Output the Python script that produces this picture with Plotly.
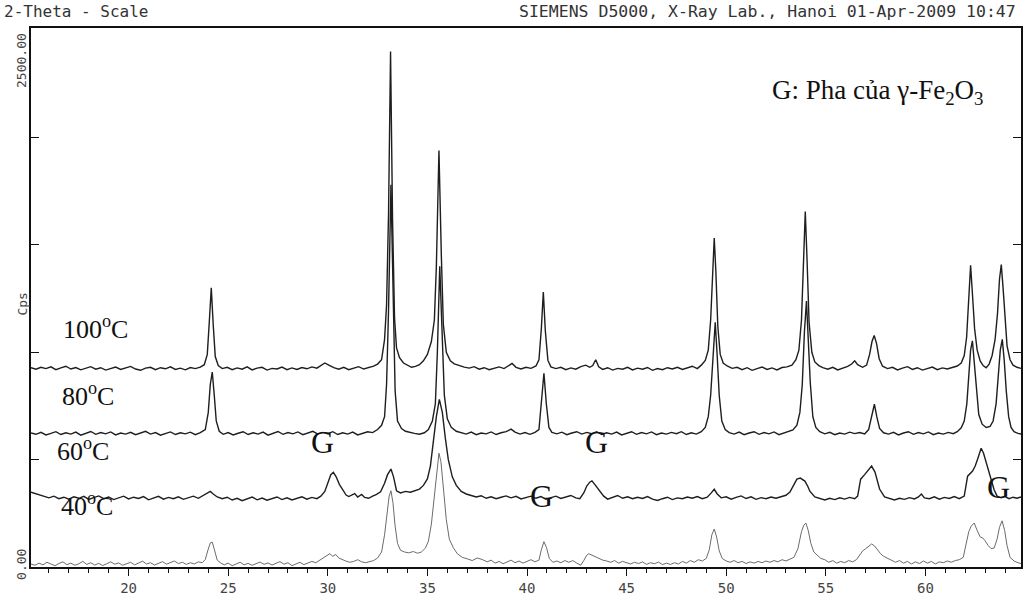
import plotly.graph_objects as go

# XRD patterns (2-theta in degrees, intensity in Cps)
pattern_100 = [
    (15.10, 928), (15.35, 921), (15.60, 930), (15.85, 924), (16.10, 932), (16.35, 919), (16.60, 927), (16.85, 935), (17.10, 922), (17.35, 929),
    (17.60, 918), (17.85, 926), (18.10, 933), (18.35, 921), (18.60, 928), (18.85, 917), (19.10, 925), (19.35, 931), (19.60, 920), (19.85, 927),
    (20.10, 934), (20.35, 922), (20.60, 916), (20.85, 926), (21.10, 930), (21.35, 919), (21.60, 928), (21.85, 923), (22.10, 932), (22.35, 920),
    (22.60, 926), (22.85, 918), (23.10, 929), (23.35, 924), (23.60, 931), (23.80, 942), (23.95, 990), (24.05, 1140), (24.15, 1300), (24.25, 1125),
    (24.35, 980), (24.50, 938), (24.70, 924), (24.95, 930), (25.20, 919), (25.45, 927), (25.70, 921), (25.95, 932), (26.20, 918), (26.45, 926),
    (26.70, 930), (26.95, 917), (27.20, 925), (27.45, 922), (27.70, 931), (27.95, 919), (28.20, 927), (28.45, 920), (28.70, 929), (28.95, 923),
    (29.20, 932), (29.45, 926), (29.65, 938), (29.85, 950), (30.05, 940), (30.30, 928), (30.55, 921), (30.80, 930), (31.05, 919), (31.30, 926),
    (31.55, 933), (31.80, 922), (32.05, 929), (32.30, 935), (32.50, 945), (32.70, 965), (32.85, 1060), (32.95, 1220), (33.05, 1650), (33.15, 2400),
    (33.25, 1620), (33.35, 1160), (33.45, 1020), (33.60, 975), (33.80, 950), (34.00, 938), (34.20, 930), (34.40, 934), (34.60, 942), (34.80, 960),
    (35.00, 990), (35.20, 1050), (35.35, 1150), (35.45, 1400), (35.58, 1940), (35.70, 1450), (35.80, 1130), (35.95, 1000), (36.15, 960), (36.35, 946),
    (36.60, 938), (36.85, 931), (37.10, 926), (37.35, 933), (37.60, 921), (37.85, 928), (38.10, 919), (38.35, 927), (38.60, 932), (38.85, 924),
    (39.05, 936), (39.25, 948), (39.45, 930), (39.70, 922), (39.95, 930), (40.20, 925), (40.45, 936), (40.60, 965), (40.72, 1110), (40.82, 1280),
    (40.92, 1100), (41.05, 962), (41.20, 932), (41.45, 924), (41.70, 930), (41.95, 919), (42.20, 927), (42.45, 921), (42.70, 933), (42.95, 940),
    (43.15, 930), (43.30, 938), (43.45, 965), (43.60, 932), (43.80, 920), (44.05, 928), (44.30, 917), (44.55, 925), (44.80, 921), (45.05, 930),
    (45.30, 918), (45.55, 926), (45.80, 921), (46.05, 929), (46.30, 916), (46.55, 924), (46.80, 919), (47.05, 928), (47.30, 922), (47.55, 930),
    (47.80, 920), (48.05, 927), (48.30, 935), (48.55, 924), (48.75, 940), (48.95, 962), (49.10, 1010), (49.22, 1150), (49.32, 1400), (49.40, 1532),
    (49.48, 1380), (49.58, 1120), (49.70, 990), (49.85, 950), (50.05, 936), (50.30, 925), (50.55, 930), (50.80, 919), (51.05, 928), (51.30, 916),
    (51.55, 924), (51.80, 931), (52.05, 920), (52.30, 927), (52.55, 918), (52.80, 929), (53.05, 932), (53.30, 940), (53.50, 965), (53.65, 1010),
    (53.78, 1150), (53.88, 1450), (53.97, 1655), (54.06, 1430), (54.16, 1140), (54.30, 1000), (54.45, 955), (54.65, 938), (54.85, 928), (55.10, 921),
    (55.35, 930), (55.60, 918), (55.85, 926), (56.10, 934), (56.30, 945), (56.45, 960), (56.60, 942), (56.85, 930), (57.05, 940), (57.20, 990),
    (57.32, 1050), (57.43, 1078), (57.55, 1040), (57.68, 970), (57.85, 935), (58.10, 924), (58.35, 930), (58.60, 918), (58.85, 926), (59.10, 933),
    (59.35, 920), (59.60, 928), (59.85, 917), (60.10, 925), (60.35, 931), (60.60, 919), (60.85, 927), (61.10, 922), (61.35, 930), (61.60, 936),
    (61.80, 950), (61.95, 985), (62.07, 1070), (62.17, 1250), (62.27, 1405), (62.37, 1260), (62.47, 1110), (62.60, 1010), (62.75, 960), (62.90, 938),
    (63.05, 928), (63.20, 945), (63.35, 985), (63.50, 1060), (63.62, 1180), (63.72, 1340), (63.81, 1408), (63.90, 1300), (64.00, 1150), (64.10, 1030),
    (64.25, 965), (64.40, 940), (64.60, 930), (64.80, 925),
]

pattern_80 = [
    (15.10, 624), (15.35, 618), (15.60, 627), (15.85, 615), (16.10, 622), (16.35, 630), (16.60, 617), (16.85, 625), (17.10, 619), (17.35, 628),
    (17.60, 614), (17.85, 623), (18.10, 631), (18.35, 618), (18.60, 626), (18.85, 620), (19.10, 629), (19.35, 615), (19.60, 624), (19.85, 619),
    (20.10, 627), (20.35, 616), (20.60, 625), (20.85, 632), (21.10, 619), (21.35, 626), (21.60, 614), (21.85, 622), (22.10, 629), (22.35, 617),
    (22.60, 625), (22.85, 620), (23.10, 628), (23.35, 616), (23.60, 626), (23.85, 640), (24.00, 720), (24.10, 850), (24.20, 908), (24.30, 800),
    (24.40, 680), (24.55, 632), (24.75, 618), (25.00, 626), (25.25, 615), (25.50, 623), (25.75, 630), (26.00, 617), (26.25, 625), (26.50, 619),
    (26.75, 628), (27.00, 614), (27.25, 622), (27.50, 631), (27.75, 618), (28.00, 626), (28.25, 620), (28.50, 629), (28.75, 616), (29.00, 624),
    (29.25, 632), (29.50, 619), (29.75, 627), (30.00, 621), (30.25, 630), (30.50, 617), (30.75, 625), (31.00, 619), (31.25, 628), (31.50, 615),
    (31.75, 624), (32.00, 630), (32.25, 626), (32.50, 640), (32.70, 660), (32.85, 700), (32.95, 850), (33.05, 1200), (33.17, 1780), (33.28, 1250),
    (33.38, 820), (33.50, 680), (33.70, 645), (33.90, 632), (34.10, 626), (34.35, 622), (34.60, 618), (34.85, 625), (35.05, 640), (35.25, 680),
    (35.40, 760), (35.50, 1000), (35.62, 1400), (35.74, 1050), (35.85, 800), (36.00, 690), (36.20, 650), (36.45, 632), (36.70, 625), (36.95, 619),
    (37.20, 628), (37.45, 616), (37.70, 624), (37.95, 620), (38.20, 629), (38.45, 617), (38.70, 625), (38.95, 630), (39.20, 642), (39.40, 628),
    (39.65, 619), (39.90, 626), (40.15, 618), (40.40, 627), (40.60, 640), (40.72, 760), (40.85, 902), (40.97, 760), (41.10, 650), (41.25, 627),
    (41.50, 620), (41.75, 628), (42.00, 616), (42.25, 624), (42.50, 630), (42.75, 619), (43.00, 627), (43.25, 621), (43.50, 630), (43.75, 617),
    (44.00, 625), (44.25, 619), (44.50, 628), (44.75, 615), (45.00, 624), (45.25, 630), (45.50, 618), (45.75, 626), (46.00, 620), (46.25, 629),
    (46.50, 616), (46.75, 624), (47.00, 619), (47.25, 627), (47.50, 621), (47.75, 630), (48.00, 617), (48.25, 625), (48.50, 619), (48.75, 630),
    (48.95, 650), (49.10, 700), (49.22, 800), (49.34, 1000), (49.45, 1140), (49.55, 980), (49.65, 800), (49.78, 680), (49.95, 640), (50.15, 626),
    (50.40, 619), (50.65, 628), (50.90, 616), (51.15, 624), (51.40, 630), (51.65, 618), (51.90, 626), (52.15, 620), (52.40, 629), (52.65, 616),
    (52.90, 624), (53.15, 630), (53.35, 638), (53.55, 660), (53.70, 720), (53.82, 850), (53.93, 1100), (54.03, 1238), (54.12, 1080), (54.22, 860),
    (54.35, 700), (54.50, 650), (54.70, 630), (54.95, 620), (55.20, 627), (55.45, 616), (55.70, 624), (55.95, 619), (56.20, 628), (56.45, 621),
    (56.70, 626), (56.95, 620), (57.15, 640), (57.30, 710), (57.44, 758), (57.56, 700), (57.70, 645), (57.90, 625), (58.15, 619), (58.40, 627),
    (58.65, 615), (58.90, 624), (59.15, 630), (59.40, 618), (59.65, 626), (59.90, 620), (60.15, 629), (60.40, 616), (60.65, 624), (60.90, 619),
    (61.15, 627), (61.40, 621), (61.60, 630), (61.80, 648), (61.95, 680), (62.08, 760), (62.18, 880), (62.27, 1010), (62.36, 1053), (62.45, 960),
    (62.55, 820), (62.68, 710), (62.85, 665), (63.05, 650), (63.25, 655), (63.40, 680), (63.55, 760), (63.66, 880), (63.76, 1010), (63.86, 1060),
    (63.96, 960), (64.06, 820), (64.18, 700), (64.30, 650), (64.45, 630), (64.65, 622), (64.80, 619),
]

pattern_60 = [
    (15.10, 348), (15.30, 342), (15.50, 336), (15.75, 328), (16.00, 322), (16.25, 330), (16.50, 318), (16.75, 325), (17.00, 316), (17.25, 327),
    (17.50, 320), (17.75, 329), (18.00, 315), (18.25, 323), (18.50, 331), (18.75, 318), (19.00, 326), (19.25, 314), (19.50, 322), (19.75, 330),
    (20.00, 317), (20.25, 325), (20.50, 319), (20.75, 328), (21.00, 313), (21.25, 321), (21.50, 329), (21.75, 316), (22.00, 324), (22.25, 318),
    (22.50, 327), (22.75, 315), (23.00, 323), (23.25, 330), (23.50, 320), (23.75, 332), (23.95, 345), (24.10, 352), (24.25, 340), (24.45, 326),
    (24.70, 318), (24.95, 325), (25.20, 312), (25.45, 320), (25.70, 309), (25.95, 318), (26.20, 326), (26.45, 313), (26.70, 321), (26.95, 311),
    (27.20, 319), (27.45, 326), (27.70, 314), (27.95, 322), (28.20, 312), (28.45, 320), (28.70, 327), (28.95, 316), (29.20, 324), (29.45, 318),
    (29.65, 330), (29.85, 352), (30.00, 395), (30.15, 430), (30.28, 441), (30.42, 420), (30.58, 385), (30.75, 360), (30.92, 335), (31.05, 328),
    (31.20, 336), (31.35, 342), (31.50, 326), (31.70, 338), (31.85, 324), (32.05, 320), (32.25, 330), (32.45, 338), (32.65, 350), (32.85, 390),
    (33.00, 430), (33.17, 456), (33.30, 420), (33.45, 355), (33.65, 345), (33.90, 352), (34.15, 348), (34.40, 355), (34.60, 363), (34.80, 380),
    (35.00, 410), (35.15, 470), (35.30, 580), (35.45, 700), (35.60, 781), (35.75, 720), (35.90, 600), (36.05, 500), (36.25, 420), (36.45, 380),
    (36.70, 352), (36.95, 340), (37.20, 333), (37.45, 326), (37.70, 332), (37.95, 320), (38.20, 327), (38.45, 318), (38.70, 325), (38.95, 331),
    (39.20, 322), (39.45, 329), (39.70, 317), (39.95, 325), (40.20, 330), (40.45, 320), (40.70, 328), (40.95, 316), (41.20, 324), (41.45, 330),
    (41.70, 319), (41.95, 327), (42.20, 333), (42.45, 322), (42.65, 318), (42.85, 345), (43.00, 377), (43.15, 395), (43.26, 401), (43.40, 385),
    (43.55, 365), (43.70, 349), (43.85, 330), (44.05, 316), (44.30, 324), (44.55, 333), (44.80, 320), (45.05, 327), (45.30, 318), (45.55, 325),
    (45.80, 319), (46.05, 328), (46.30, 316), (46.55, 310), (46.80, 318), (47.05, 325), (47.30, 314), (47.55, 322), (47.80, 318), (48.05, 326),
    (48.30, 320), (48.55, 328), (48.80, 318), (49.05, 325), (49.25, 345), (49.40, 362), (49.55, 340), (49.75, 322), (50.00, 327), (50.25, 316),
    (50.50, 324), (50.75, 331), (51.00, 319), (51.25, 327), (51.50, 315), (51.75, 323), (52.00, 318), (52.25, 326), (52.50, 320), (52.75, 328),
    (53.00, 334), (53.20, 349), (53.40, 385), (53.55, 409), (53.72, 414), (53.95, 400), (54.10, 375), (54.20, 353), (54.45, 326), (54.70, 318),
    (54.95, 312), (55.20, 320), (55.45, 314), (55.70, 322), (55.95, 316), (56.20, 324), (56.45, 318), (56.60, 330), (56.75, 409), (56.95, 430),
    (57.15, 456), (57.30, 470), (57.47, 442), (57.60, 400), (57.70, 363), (57.95, 326), (58.20, 318), (58.45, 312), (58.70, 320), (58.95, 315),
    (59.20, 323), (59.45, 317), (59.65, 326), (59.80, 340), (59.95, 322), (60.20, 318), (60.45, 327), (60.70, 316), (60.95, 324), (61.20, 319),
    (61.45, 328), (61.70, 318), (61.95, 330), (62.12, 423), (62.37, 447), (62.50, 470), (62.62, 502), (62.80, 553), (62.92, 530), (63.05, 488),
    (63.20, 440), (63.30, 409), (63.45, 360), (63.60, 330), (63.80, 322), (64.00, 328), (64.20, 318), (64.40, 325), (64.60, 320), (64.80, 326),
]

pattern_40 = [
    (15.10, 14), (15.30, 8), (15.50, 18), (15.70, 10), (15.90, 22), (16.10, 12), (16.30, 6), (16.50, 16), (16.70, 24), (16.90, 11),
    (17.10, 18), (17.30, 8), (17.50, 15), (17.70, 26), (17.90, 12), (18.10, 20), (18.30, 9), (18.50, 17), (18.70, 7), (18.90, 15),
    (19.10, 24), (19.30, 13), (19.50, 19), (19.70, 8), (19.90, 16), (20.10, 22), (20.30, 10), (20.50, 18), (20.70, 27), (20.90, 14),
    (21.10, 20), (21.30, 9), (21.50, 17), (21.70, 25), (21.90, 13), (22.10, 19), (22.30, 28), (22.50, 16), (22.70, 22), (22.90, 12),
    (23.10, 20), (23.30, 14), (23.50, 24), (23.70, 20), (23.85, 35), (23.97, 75), (24.10, 112), (24.20, 116), (24.32, 70), (24.45, 32),
    (24.60, 20), (24.80, 10), (25.00, 18), (25.20, 6), (25.40, 14), (25.60, 22), (25.80, 10), (26.00, 17), (26.20, 8), (26.40, 15),
    (26.60, 23), (26.80, 12), (27.00, 19), (27.20, 9), (27.40, 16), (27.60, 25), (27.80, 13), (28.00, 20), (28.20, 6), (28.40, 14),
    (28.60, 22), (28.80, 11), (29.00, 18), (29.20, 26), (29.40, 20), (29.60, 32), (29.80, 48), (29.95, 55), (30.10, 62), (30.25, 50),
    (30.40, 58), (30.55, 42), (30.70, 35), (30.90, 28), (31.10, 22), (31.30, 26), (31.50, 34), (31.70, 24), (31.90, 20), (32.10, 26),
    (32.30, 30), (32.50, 42), (32.70, 70), (32.85, 150), (32.97, 260), (33.08, 330), (33.17, 355), (33.27, 300), (33.38, 190), (33.50, 110),
    (33.65, 78), (33.85, 70), (34.05, 66), (34.30, 72), (34.50, 64), (34.70, 70), (34.90, 88), (35.05, 120), (35.20, 200), (35.35, 340),
    (35.48, 470), (35.58, 530), (35.68, 490), (35.80, 360), (35.95, 220), (36.10, 130), (36.30, 90), (36.50, 62), (36.75, 45), (37.00, 38),
    (37.25, 30), (37.50, 42), (37.75, 35), (38.00, 24), (38.20, 32), (38.40, 18), (38.60, 26), (38.80, 15), (39.00, 24), (39.20, 32),
    (39.40, 20), (39.60, 28), (39.80, 18), (40.00, 26), (40.20, 34), (40.40, 24), (40.60, 32), (40.72, 80), (40.85, 118), (40.98, 90),
    (41.12, 40), (41.30, 22), (41.50, 28), (41.70, 20), (41.90, 30), (42.10, 22), (42.30, 30), (42.50, 18), (42.70, 8), (42.85, 30),
    (43.00, 55), (43.10, 62), (43.25, 55), (43.40, 48), (43.60, 40), (43.80, 32), (44.00, 28), (44.20, 22), (44.40, 30), (44.60, 18),
    (44.80, 26), (45.00, 20), (45.20, 14), (45.40, 22), (45.60, 16), (45.80, 24), (46.00, 12), (46.20, 20), (46.40, 15), (46.60, 23),
    (46.80, 11), (47.00, 18), (47.20, 12), (47.40, 20), (47.60, 14), (47.80, 26), (48.00, 18), (48.20, 30), (48.40, 22), (48.60, 34),
    (48.80, 28), (49.00, 40), (49.15, 80), (49.28, 150), (49.40, 177), (49.52, 140), (49.65, 75), (49.80, 40), (50.00, 28), (50.20, 22),
    (50.40, 30), (50.60, 20), (50.80, 26), (51.00, 16), (51.20, 24), (51.40, 18), (51.60, 26), (51.80, 20), (52.00, 28), (52.20, 22),
    (52.40, 30), (52.60, 24), (52.80, 34), (53.00, 28), (53.20, 36), (53.40, 45), (53.60, 85), (53.78, 165), (53.90, 195), (54.00, 205),
    (54.12, 170), (54.25, 110), (54.40, 70), (54.55, 55), (54.75, 40), (54.95, 34), (55.15, 22), (55.35, 30), (55.55, 18), (55.75, 26),
    (55.95, 20), (56.15, 30), (56.35, 24), (56.55, 35), (56.70, 55), (56.85, 75), (57.00, 85), (57.15, 95), (57.30, 107), (57.45, 98),
    (57.60, 80), (57.75, 62), (57.90, 50), (58.10, 40), (58.30, 32), (58.50, 22), (58.70, 30), (58.90, 18), (59.10, 26), (59.30, 14),
    (59.50, 24), (59.70, 16), (59.90, 28), (60.10, 18), (60.30, 26), (60.50, 14), (60.70, 24), (60.90, 20), (61.10, 28), (61.30, 22),
    (61.50, 30), (61.70, 34), (61.90, 45), (62.05, 110), (62.18, 165), (62.30, 190), (62.45, 205), (62.60, 170), (62.75, 140), (62.88, 135),
    (63.00, 122), (63.15, 100), (63.30, 86), (63.45, 88), (63.60, 130), (63.72, 185), (63.85, 215), (63.98, 170), (64.10, 100), (64.25, 45),
    (64.45, 28), (64.65, 20), (64.80, 16),
]

# curve labels: (text, 2-theta, cps) -- placed next to each pattern
temp_labels = [
    ("100<sup>o</sup>C", 16.62, 1116),
    ("80<sup>o</sup>C", 16.55, 804),
    ("60<sup>o</sup>C", 16.30, 549),
    ("40<sup>o</sup>C", 16.50, 293),
]
# gamma-Fe2O3 phase markers
g_marks = [(29.72, 581), (43.51, 581), (40.75, 330), (63.66, 372)]

x_ticks = [20, 25, 30, 35, 40, 45, 50, 55, 60]
y_ticks = [500, 1000, 1500, 2000]
X_RANGE = [15.1, 64.8]
Y_RANGE = [0, 2510]

SERIF = "Liberation Serif, Times New Roman, serif"
MONO = "DejaVu Sans Mono, Liberation Mono, monospace"

fig = go.Figure()

series = [
    (pattern_40, "#6b6b6b", 1.0),
    (pattern_60, "#1e1e1e", 1.4),
    (pattern_80, "#1e1e1e", 1.4),
    (pattern_100, "#1e1e1e", 1.4),
]
for pts, color, width in series:
    xs = [p[0] for p in pts]
    ys = [p[1] for p in pts]
    fig.add_trace(go.Scatter(
        x=xs, y=ys, mode="lines",
        line=dict(color=color, width=width),
        showlegend=False, hoverinfo="skip",
    ))

annotations = []
for text, x, y in temp_labels:
    annotations.append(dict(
        x=x, y=y, xref="x", yref="y", text=text, showarrow=False,
        xanchor="left", yanchor="middle",
        font=dict(family=SERIF, size=26, color="#111"),
    ))
for x, y in g_marks:
    annotations.append(dict(
        x=x, y=y, xref="x", yref="y", text="G", showarrow=False,
        xanchor="center", yanchor="middle",
        font=dict(family=SERIF, size=32, color="#111"),
    ))
annotations.append(dict(
    x=52.2, y=2213, xref="x", yref="y",
    text="G: Pha của γ-Fe<sub>2</sub>O<sub>3</sub>", showarrow=False,
    xanchor="left", yanchor="middle",
    font=dict(family=SERIF, size=27, color="#111"),
))
# instrument header
annotations.append(dict(
    x=-0.029, y=1.031, xref="paper", yref="paper", text="2-Theta - Scale",
    showarrow=False, xanchor="left", yanchor="middle",
    font=dict(family=MONO, size=16, color="#333"),
))
annotations.append(dict(
    x=0.997, y=1.031, xref="paper", yref="paper",
    text="SIEMENS D5000, X-Ray Lab., Hanoi 01-Apr-2009 10:47",
    showarrow=False, xanchor="right", yanchor="middle",
    font=dict(family=MONO, size=16.5, color="#333"),
))
# y axis labels, printed sideways like the original
for text, yp in [("2500.00", 0.939), ("Cps", 0.487), ("0.00", 0.004)]:
    annotations.append(dict(
        x=-0.009, y=yp, xref="paper", yref="paper", text=text,
        showarrow=False, textangle=-90, xanchor="center", yanchor="middle",
        font=dict(family=MONO, size=13, color="#444"),
    ))

fig.update_layout(
    width=1026, height=599,
    margin=dict(l=31, r=3, t=28, b=31),
    plot_bgcolor="white", paper_bgcolor="white",
    annotations=annotations,
    xaxis=dict(
        range=X_RANGE, showline=True, linecolor="#111", linewidth=1.5, mirror=True,
        ticks="outside", tickmode="array", tickvals=x_ticks, ticklen=7, tickwidth=1.2,
        tickcolor="#111", showgrid=False, zeroline=False,
        tickfont=dict(family=MONO, size=14, color="#444"),
        minor=dict(dtick=1, tick0=0, ticks="outside", ticklen=4, tickcolor="#111", showgrid=False),
    ),
    xaxis2=dict(
        range=X_RANGE, overlaying="x", side="top", anchor="y",
        ticks="inside", tickmode="array", tickvals=x_ticks, ticklen=6, tickwidth=1.2,
        tickcolor="#111", showticklabels=False, showline=False, showgrid=False, zeroline=False,
    ),
    yaxis=dict(
        range=Y_RANGE, showline=True, linecolor="#111", linewidth=1.5, mirror="ticks",
        ticks="inside", tickmode="array", tickvals=y_ticks, ticklen=8, tickwidth=1.2,
        tickcolor="#111", showticklabels=False, showgrid=False, zeroline=False,
    ),
)

# drop the browser's default 8px body margin so the figure sits at the page origin
fig.write_html(
    "out.html",
    config={"displayModeBar": False},
    post_script="document.body.style.margin='0';",
)
